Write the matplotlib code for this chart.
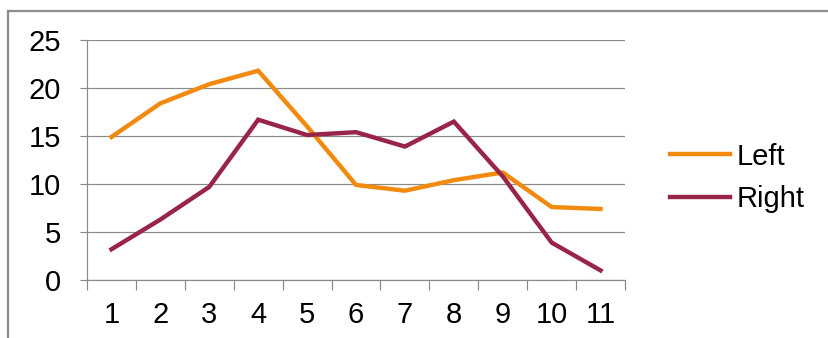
import matplotlib
matplotlib.use("Agg")
import matplotlib.pyplot as plt
from matplotlib.lines import Line2D
import numpy as np

categories = ["1", "2", "3", "4", "5", "6", "7", "8", "9", "10", "11"]
left_vals = [14.9, 18.4, 20.4, 21.8, 16.0, 9.9, 9.3, 10.4, 11.2, 7.6, 7.4]
right_vals = [3.2, 6.3, 9.7, 16.7, 15.1, 15.4, 13.9, 16.5, 10.8, 3.9, 1.0]
y_ticks = [0, 5, 10, 15, 20, 25]

plt.rcParams['font.family'] = ['Liberation Sans', 'DejaVu Sans']

W, H = 829, 338
PT = 72 / 100  # points per pixel at dpi 100
fig = plt.figure(figsize=(W / 100, H / 100), dpi=100)
fig.patch.set_facecolor("white")

ax = fig.add_axes([87 / W, 1 - 280 / H, (625 - 87) / W, (280 - 40) / H])
x = np.arange(1, len(categories) + 1)

orange = "#F28A10"
maroon = "#982447"
ax.plot(x, left_vals, color=orange, lw=4.4 * PT, label="Left", solid_joinstyle="miter")
ax.plot(x, right_vals, color=maroon, lw=4.4 * PT, label="Right", solid_joinstyle="miter")

ax.set_xlim(0.5, len(categories) + 0.5)
ax.set_ylim(0, 25)
ax.set_yticks(y_ticks)
ax.set_yticklabels([str(v) for v in y_ticks])
ax.set_xticks(x)
ax.set_xticklabels(categories)
ax.set_xticks(np.arange(0.5, len(categories) + 1, 1), minor=True)

grid_c = "#8a8a8a"
ax.grid(axis="y", color=grid_c, lw=1.2 * PT)
ax.set_axisbelow(True)
for s in ["top", "right"]:
    ax.spines[s].set_visible(False)
for s in ["left", "bottom"]:
    ax.spines[s].set_color(grid_c)
    ax.spines[s].set_linewidth(1.2 * PT)

FS = 21
ax.tick_params(axis="y", length=7 * PT, width=1.2 * PT, color=grid_c, pad=19 * PT,
               labelsize=FS, labelcolor="black")
ax.tick_params(axis="x", which="major", length=0, pad=21 * PT, labelsize=FS, labelcolor="black")
ax.tick_params(axis="x", which="minor", length=10 * PT, width=1.2 * PT, color=grid_c)

leg = fig.legend(loc="center left", bbox_to_anchor=(670 / W, 1 - 178 / H), frameon=False,
                 fontsize=FS, handlelength=2.05, handletextpad=0.25, labelspacing=0.5,
                 borderaxespad=0, borderpad=0)

# chart border (top and left visible)
border_c = "#8c8c8c"
fig.add_artist(Line2D([8 / W, 1], [1 - 11 / H, 1 - 11 / H], color=border_c, lw=1.6, transform=fig.transFigure))
fig.add_artist(Line2D([8 / W, 8 / W], [0, 1 - 11 / H], color=border_c, lw=1.6, transform=fig.transFigure))

fig.savefig("out.png", dpi=100, facecolor="white")
